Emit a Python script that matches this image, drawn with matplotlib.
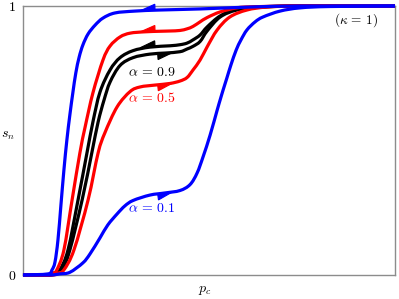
import numpy as np
import matplotlib
matplotlib.use('Agg')
from matplotlib import pyplot as plt
from matplotlib import transforms as mtransforms
from matplotlib.patches import Polygon, PathPatch
from matplotlib.path import Path

plt.rcParams['mathtext.fontset'] = 'cm'

# alpha = 0.1 (blue)
p_b_up = [0, 0.067, 0.078, 0.086, 0.094, 0.102, 0.110, 0.118, 0.126, 0.134, 0.142, 0.151,
          0.161, 0.175, 0.194, 0.215, 0.247, 0.301, 0.368, 0.476, 0.610, 0.745, 1.0]
s_b_up = [0, 0.004, 0.019, 0.048, 0.130, 0.260, 0.390, 0.502, 0.595, 0.677, 0.751, 0.810,
          0.855, 0.896, 0.929, 0.955, 0.974, 0.981, 0.985, 0.989, 0.996, 1.0, 1.0]
p_b_lo = [0, 0.073, 0.099, 0.126, 0.161, 0.180, 0.207, 0.228, 0.253, 0.274, 0.296, 0.341,
          0.382, 0.422, 0.449, 0.468, 0.484, 0.503, 0.522, 0.530, 0.538, 0.548, 0.559,
          0.573, 0.586, 0.602, 0.624, 0.645, 0.691, 0.745, 0.825, 1.0]
s_b_lo = [0, 0, 0.004, 0.010, 0.045, 0.078, 0.138, 0.186, 0.227, 0.257, 0.277, 0.297,
          0.305, 0.314, 0.336, 0.379, 0.439, 0.520, 0.613, 0.651, 0.688, 0.732, 0.781,
          0.836, 0.874, 0.911, 0.941, 0.959, 0.981, 0.993, 0.998, 1.0]

# alpha = 0.5 (red)
p_r_up = [0, 0.067, 0.081, 0.091, 0.110, 0.132, 0.153, 0.167, 0.188, 0.215, 0.234, 0.261,
          0.288, 0.328, 0.368, 0.395, 0.422, 0.441, 0.457, 0.476, 0.495, 0.530, 0.575,
          0.618, 0.745, 1.0]
s_r_up = [0, 0, 0.007, 0.019, 0.093, 0.279, 0.454, 0.550, 0.677, 0.799, 0.851, 0.885,
          0.899, 0.904, 0.906, 0.907, 0.909, 0.915, 0.924, 0.941, 0.957, 0.978, 0.993,
          0.997, 1.0, 1.0]
p_r_lo = [0, 0.078, 0.094, 0.110, 0.137, 0.175, 0.202, 0.220, 0.253, 0.288, 0.315, 0.355,
          0.395, 0.422, 0.441, 0.457, 0.476, 0.495, 0.522, 0.556, 0.602, 0.656, 0.745, 1.0]
s_r_lo = [0, 0, 0.007, 0.019, 0.093, 0.279, 0.454, 0.528, 0.625, 0.682, 0.699, 0.706,
          0.712, 0.721, 0.734, 0.762, 0.799, 0.848, 0.911, 0.959, 0.985, 0.996, 1.0, 1.0]

# alpha = 0.9 (black)
p_k_up = [0, 0.067, 0.083, 0.099, 0.121, 0.148, 0.172, 0.188, 0.207, 0.234, 0.261, 0.296,
          0.341, 0.395, 0.422, 0.441, 0.457, 0.476, 0.495, 0.530, 0.575, 0.637, 0.745, 1.0]
s_k_up = [0, 0, 0.007, 0.019, 0.093, 0.279, 0.454, 0.569, 0.680, 0.762, 0.808, 0.834,
          0.847, 0.852, 0.856, 0.862, 0.874, 0.892, 0.922, 0.963, 0.989, 0.996, 1.0, 1.0]
p_k_lo = [0, 0.073, 0.089, 0.105, 0.126, 0.159, 0.185, 0.202, 0.218, 0.234, 0.261, 0.296,
          0.341, 0.382, 0.422, 0.441, 0.457, 0.476, 0.495, 0.530, 0.575, 0.637, 0.745, 1.0]
s_k_lo = [0, 0, 0.007, 0.019, 0.093, 0.279, 0.454, 0.569, 0.651, 0.717, 0.779, 0.808,
          0.821, 0.825, 0.830, 0.840, 0.850, 0.868, 0.907, 0.959, 0.985, 0.996, 1.0, 1.0]

# arrow positions (p at arrow base) for upper / lower branches
arrow_p_up = 0.355
arrow_p_lo = 0.362

fig = plt.figure(figsize=(3.99, 2.99), dpi=100)
ax = fig.add_axes([0.0576, 0.0803, 0.9324, 0.8997])
ax.set_xlim(0, 1)
ax.set_ylim(0, 1)

branches = [
    (p_k_up, s_k_up, p_k_lo, s_k_lo, 'black'),
    (p_r_up, s_r_up, p_r_lo, s_r_lo, 'red'),
    (p_b_up, s_b_up, p_b_lo, s_b_lo, 'blue'),
]


def smooth_path(px, sy):
    # Catmull-Rom style cubic bezier through the read points
    P = np.column_stack([px, sy]).astype(float)
    n = len(P)
    verts = [P[0]]
    codes = [Path.MOVETO]
    for i in range(n - 1):
        p0 = P[max(i - 1, 0)]
        p1 = P[i]
        p2 = P[i + 1]
        p3 = P[min(i + 2, n - 1)]
        c1 = p1 + (p2 - p0) / 6.0
        c2 = p2 - (p3 - p1) / 6.0
        c1[1] = np.clip(c1[1], 0, 1)
        c2[1] = np.clip(c2[1], 0, 1)
        verts += [c1, c2, p2]
        codes += [Path.CURVE4] * 3
    return Path(verts, codes)


def half_arrow(px, sx, x0, direction, side, color):
    # half arrow head sitting on the curve at p = x0
    y0 = np.interp(x0, px, sx)
    d = ax.transData.transform([[x0 - 0.01, np.interp(x0 - 0.01, px, sx)],
                                [x0 + 0.01, np.interp(x0 + 0.01, px, sx)]])
    ang = np.arctan2(d[1, 1] - d[0, 1], d[1, 0] - d[0, 0])
    L, h = 0.15, 0.06
    pts = np.array([[0, 0], [direction * L, 0], [0, side * h]])
    rot = np.array([[np.cos(ang), -np.sin(ang)], [np.sin(ang), np.cos(ang)]])
    pts = pts @ rot.T
    tr = fig.dpi_scale_trans + mtransforms.ScaledTranslation(x0, y0, ax.transData)
    ax.add_patch(Polygon(pts, closed=True, transform=tr, facecolor=color,
                         edgecolor=color, lw=0.8, zorder=4, clip_on=False))


for pu, su, pl, sl, c in branches:
    for px, sy in [(pu, su), (pl, sl)]:
        ax.add_patch(PathPatch(smooth_path(px, sy), facecolor='none', edgecolor=c,
                               lw=2.3, clip_on=False, zorder=3))
    half_arrow(pu, su, arrow_p_up, -1, 1, c)
    half_arrow(pl, sl, arrow_p_lo, 1, -1, c)

ax.text(0.347, 0.755, r'$\alpha\,=\,0.9$', color='black', fontsize=10, ha='center', va='center')
ax.text(0.347, 0.658, r'$\alpha\,=\,0.5$', color='red', fontsize=10, ha='center', va='center')
ax.text(0.347, 0.249, r'$\alpha\,=\,0.1$', color='blue', fontsize=10, ha='center', va='center')
ax.text(0.895, 0.948, r'$(\kappa\,=\,1)$', color='black', fontsize=9.5, ha='center', va='center')

ax.set_xticks([])
ax.set_yticks([0, 1])
ax.set_yticklabels([r'$0$', r'$1$'], fontsize=10)
ax.tick_params(axis='y', length=0, pad=5)
for sp in ax.spines.values():
    sp.set_color('0.55')
    sp.set_linewidth(1.0)

ax.set_ylabel(r'$s_n$', rotation=0, fontsize=10, ha='center', va='center')
ax.yaxis.set_label_coords(-0.040, 0.52)
ax.set_xlabel(r'$p_c$', fontsize=10, ha='center', va='center')
ax.xaxis.set_label_coords(0.489, -0.056)

fig.savefig('out.png', dpi=100)
